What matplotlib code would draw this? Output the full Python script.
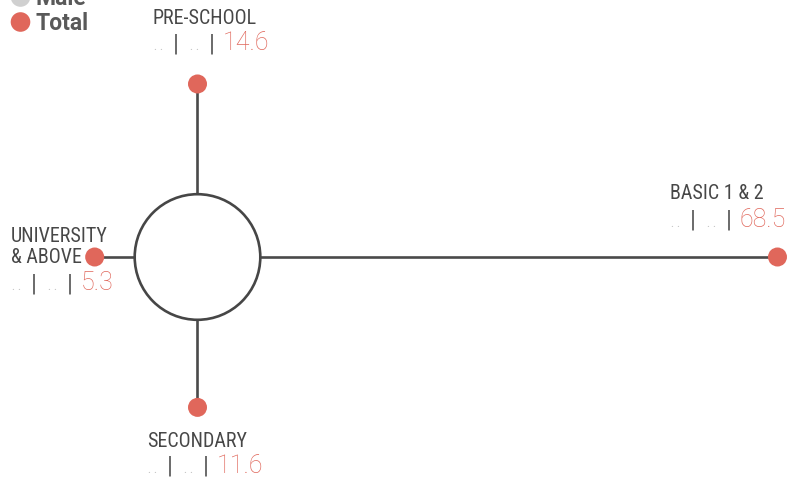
import matplotlib
matplotlib.use("Agg")
import matplotlib.pyplot as plt
from matplotlib.patches import Circle

# ---------------- data ----------------
categories = ["PRE-SCHOOL", "BASIC 1 & 2", "SECONDARY", "UNIVERSITY\n& ABOVE"]
female = ["..", "..", "..", ".."]
male = ["..", "..", "..", ".."]
total = [14.6, 68.5, 11.6, 5.3]
legend_labels = ["Male", "Total"]

# ---------------- layout / style ----------------
W, H = 788, 482
CX, CY, R = 197.5, 257.0, 62.8          # hub circle (pixels)
PX_PER_UNIT = 7.55                       # spoke length scale beyond circle edge
directions = [(0, -1), (1, 0), (0, 1), (-1, 0)]   # up, right, down, left
# left x, label baseline, value baseline
label_pos = [(153, 24, 50), (670, 199, 227), (147, 447, 473), (11, 242, 290)]

RED = "#E0675B"
LINE = "#4a4a4a"
LABEL = "#474747"
DOTS = "#c4c4c4"
BAR = "#5a5a5a"
LEG_GRAY = "#d0d0d0"

LABEL_FONT = dict(family="Roboto Condensed", fontsize=14.4, color=LABEL)
VAL_FONT = dict(family="Roboto", fontweight="light", fontsize=18)
BAR_FONT = dict(family="Roboto", fontweight="normal", fontsize=17.5)

fig = plt.figure(figsize=(W / 100, H / 100), dpi=100)
ax = fig.add_axes([0, 0, 1, 1])
ax.set_xlim(0, W)
ax.set_ylim(H, 0)
ax.axis("off")


def scale(v):
    return R + v * PX_PER_UNIT


def chain(prev, s, color, gap, vby, font):
    return ax.annotate(s, xy=(1, vby), xycoords=(prev, "data"),
                       xytext=(gap, 0), textcoords="offset pixels",
                       ha="left", va="baseline", color=color, zorder=5, **font)


for cat, f, m, t, (dx, dy), (lx, lby, vby) in zip(
        categories, female, male, total, directions, label_pos):
    L = scale(t)
    x0, y0 = CX + dx * R, CY + dy * R
    x1, y1 = CX + dx * L, CY + dy * L
    ax.plot([x0, x1], [y0, y1], color=LINE, lw=1.9, solid_capstyle="butt", zorder=2)
    ax.add_patch(Circle((x1, y1), 9.5, facecolor=RED, edgecolor="none", zorder=4))

    for i, ln in enumerate(cat.split("\n")):
        ax.text(lx, lby + i * 21, ln, ha="left", va="baseline", zorder=5, **LABEL_FONT)

    # value line:  ..  |  ..  |  total
    prev = ax.text(lx - 1, vby, f[0], ha="left", va="baseline", color=DOTS,
                   zorder=5, **VAL_FONT)
    for ch in f[1:]:
        prev = chain(prev, ch, DOTS, 1.2, vby, VAL_FONT)
    prev = chain(prev, "|", BAR, 9, vby, BAR_FONT)
    first = True
    for ch in m:
        prev = chain(prev, ch, DOTS, 9 if first else 1.2, vby, VAL_FONT)
        first = False
    prev = chain(prev, "|", BAR, 9, vby, BAR_FONT)
    chain(prev, f"{t:.1f}", RED, 8, vby, VAL_FONT)

# hub circle
ax.add_patch(Circle((CX, CY), R, facecolor="white", edgecolor="#464646", lw=1.9, zorder=3))

# legend (top-left, partially cut off like the reference)
leg_colors = [LEG_GRAY, RED]
leg_base = [5, 30]
for lab, col, by in zip(legend_labels, leg_colors, leg_base):
    ax.add_patch(Circle((20.5, by - 8), 9.8, facecolor=col, edgecolor="none", zorder=4))
    ax.text(36, by, lab, ha="left", va="baseline", family="Roboto", fontweight="bold",
            fontsize=16.5, color="#595959", zorder=5)

fig.savefig("out.png", dpi=100)
